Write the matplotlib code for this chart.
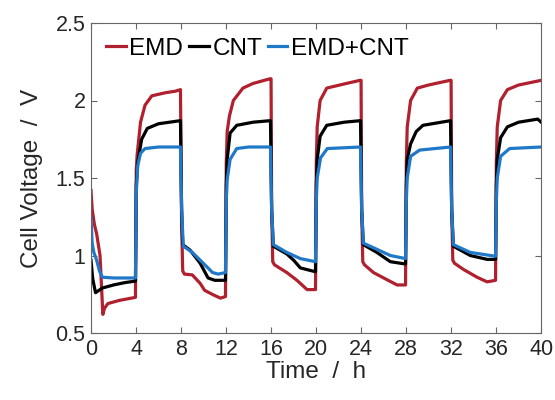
import numpy as np
from matplotlib import pyplot as plt

plt.rcParams['font.family'] = ['Liberation Sans', 'DejaVu Sans']

# EMD
emd_t = [0, 0.1, 0.3, 0.5, 0.8, 0.9, 1.05, 1.2, 1.5, 2.5, 3.95,
         4.02, 4.1, 4.4, 4.8, 5.4, 6.6, 7.5, 7.95,
         8.05, 8.15, 8.3, 9.0, 9.7, 10.1, 10.9, 11.5, 11.95,
         12.02, 12.1, 12.3, 12.65, 13.5, 14.4, 15.9, 16.0,
         16.05, 16.15, 16.3, 17.4, 18.3, 19.2, 19.95,
         20.02, 20.1, 20.36, 20.95, 22.1, 23.9, 24.0,
         24.05, 24.15, 24.3, 25.1, 26.4, 27.2, 27.95,
         28.02, 28.1, 28.4, 29.0, 30.0, 31.9, 32.0,
         32.05, 32.15, 32.3, 33.1, 34.3, 35.2, 35.95,
         36.02, 36.1, 36.4, 37.0, 38.0, 40.0]
emd_v = [1.42, 1.30, 1.20, 1.14, 1.00, 0.85, 0.62, 0.66, 0.69, 0.71, 0.73,
         1.55, 1.65, 1.86, 1.97, 2.03, 2.05, 2.06, 2.07,
         1.20, 0.90, 0.88, 0.875, 0.82, 0.775, 0.745, 0.725, 0.735,
         1.60, 1.80, 1.90, 2.00, 2.08, 2.11, 2.14, 2.14,
         1.30, 0.96, 0.94, 0.89, 0.84, 0.78, 0.78,
         1.60, 1.83, 2.00, 2.08, 2.10, 2.13, 2.13,
         1.30, 0.96, 0.94, 0.89, 0.84, 0.81, 0.81,
         1.60, 1.83, 2.00, 2.08, 2.10, 2.13, 2.13,
         1.30, 0.97, 0.95, 0.91, 0.86, 0.83, 0.84,
         1.60, 1.83, 2.00, 2.07, 2.10, 2.13]

# CNT
cnt_t = [0, 0.15, 0.4, 0.6, 1.0, 2.0, 3.0, 3.95,
         4.02, 4.15, 4.5, 5.0, 6.0, 7.95,
         8.05, 8.15, 8.8, 9.7, 10.4, 11.0, 11.95,
         12.02, 12.1, 12.36, 12.95, 14.4, 15.95,
         16.05, 16.2, 17.4, 18.0, 18.6, 19.95,
         20.02, 20.1, 20.36, 20.95, 22.5, 23.95,
         24.05, 24.2, 25.4, 26.6, 27.95,
         28.02, 28.1, 28.4, 28.9, 29.5, 31.95,
         32.05, 32.2, 33.7, 35.2, 35.95,
         36.02, 36.1, 36.4, 37.0, 38.0, 39.7, 40.0]
cnt_v = [0.97, 0.85, 0.76, 0.77, 0.79, 0.81, 0.825, 0.835,
         1.45, 1.60, 1.75, 1.82, 1.85, 1.87,
         1.30, 1.07, 1.035, 0.95, 0.855, 0.84, 0.84,
         1.45, 1.62, 1.79, 1.84, 1.86, 1.87,
         1.30, 1.06, 1.01, 0.97, 0.92, 0.895,
         1.45, 1.62, 1.77, 1.84, 1.86, 1.87,
         1.30, 1.07, 1.02, 0.96, 0.945,
         1.45, 1.62, 1.72, 1.80, 1.84, 1.87,
         1.30, 1.06, 1.00, 0.975, 0.975,
         1.45, 1.62, 1.76, 1.83, 1.86, 1.88, 1.86]

# EMD+CNT
mix_t = [0, 0.1, 0.25, 0.5, 0.75, 1.0, 2.0, 3.95,
         4.02, 4.15, 4.4, 4.8, 6.0, 7.95,
         8.05, 8.2, 9.0, 9.7, 10.8, 11.3, 11.95,
         12.02, 12.1, 12.36, 12.95, 14.0, 15.95,
         16.05, 16.2, 17.4, 18.6, 19.95,
         20.02, 20.1, 20.4, 21.0, 23.95,
         24.05, 24.2, 25.4, 26.6, 27.95,
         28.02, 28.1, 28.4, 29.2, 31.95,
         32.05, 32.2, 33.7, 35.95,
         36.02, 36.1, 36.4, 37.2, 40.0]
mix_v = [1.24, 1.08, 1.02, 0.97, 0.90, 0.86, 0.855, 0.855,
         1.40, 1.58, 1.66, 1.69, 1.70, 1.70,
         1.30, 1.06, 1.02, 0.97, 0.89, 0.88, 0.89,
         1.35, 1.49, 1.62, 1.69, 1.70, 1.70,
         1.30, 1.07, 1.02, 0.98, 0.96,
         1.35, 1.50, 1.63, 1.69, 1.70,
         1.30, 1.08, 1.04, 1.00, 0.98,
         1.35, 1.50, 1.64, 1.68, 1.70,
         1.30, 1.07, 1.02, 0.995,
         1.35, 1.50, 1.64, 1.69, 1.70]

x_ticks = [0, 4, 8, 12, 16, 20, 24, 28, 32, 36, 40]
y_ticks = [0.5, 1, 1.5, 2, 2.5]
y_labels = ['0.5', '1', '1.5', '2', '2.5']


def main() -> None:
    fig = plt.figure(figsize=(5.55, 4.0), dpi=100)
    ax = fig.add_axes([0.164, 0.1675, 0.811, 0.775])

    lw = 2.3
    ax.plot(emd_t, emd_v, color='#b0202e', lw=lw, label='EMD')
    ax.plot(cnt_t, cnt_v, color='#000000', lw=lw, label='CNT')
    ax.plot(mix_t, mix_v, color='#1f78c8', lw=lw, label='EMD+CNT')

    ax.set_xlim(0, 40)
    ax.set_ylim(0.5, 2.5)
    ax.set_xticks(x_ticks)
    ax.set_yticks(y_ticks)
    ax.set_yticklabels(y_labels)
    ax.tick_params(direction='in', top=True, right=True, length=4,
                   width=0.8, color='#666666', labelsize=15.5,
                   labelcolor='#262626', pad=4)
    for s in ax.spines.values():
        s.set_color('#666666')
        s.set_linewidth(0.8)

    ax.set_xlabel('Time  /  h', fontsize=17.5, color='#262626', labelpad=1)
    ax.set_ylabel('Cell Voltage  /  V', fontsize=17.5, color='#262626', labelpad=9)

    ax.legend(loc='upper left', ncol=3, frameon=False, fontsize=17.5,
              handlelength=0.82, handletextpad=0.16, columnspacing=0.22,
              borderaxespad=0.2, bbox_to_anchor=(0.0, 1.0))

    fig.savefig('out.png', dpi=100)


if __name__ == '__main__':
    main()
